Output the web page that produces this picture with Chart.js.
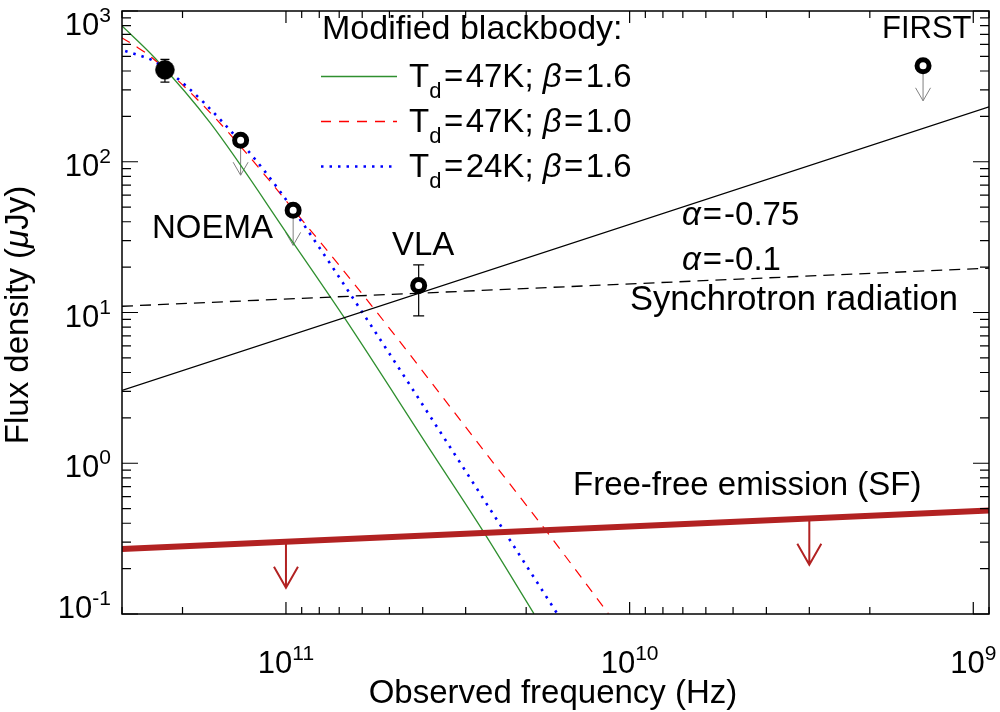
<!DOCTYPE html>
<html>
<head>
<meta charset="utf-8">
<script src="https://cdn.jsdelivr.net/npm/chart.js@4.4.1/dist/chart.umd.min.js"></script>
<style>
  html, body { margin: 0; padding: 0; background: #fff; }
  #wrap { width: 1000px; height: 712px; position: relative; }
</style>
</head>
<body>
<div id="wrap"><canvas id="sed"></canvas></div>
<script>
// frequencies in Hz, flux densities in microJy
const bb47b16Freq = [3.015e11, 2.403e11, 1.663e11, 9.524e10, 6.74e10, 3.776e10, 2.672e10, 1.899e10];
const bb47b16Flux = [805, 486, 181.6, 29.0, 9.13, 1.194, 0.356, 0.1007];

const bb47b10Freq = [3.015e11, 2.746e11, 2.458e11, 1.630e11, 8.807e10, 5.615e10, 2.642e10, 1.749e10, 1.153e10];
const bb47b10Flux = [668, 587, 492, 202, 38.9, 11.0, 1.194, 0.356, 0.1007];

const bb24b16Freq = [2.937e11, 2.657e11, 2.430e11, 1.945e11, 1.545e11, 1.177e11, 9.21e10, 5.895e10, 3.266e10, 1.625e10];
const bb24b16Flux = [543, 506, 467, 316, 188, 91.8, 43.1, 9.46, 1.194, 0.1007];

const syncFreq = [3e11, 9e8];
const sync075Flux = [3.04, 231.5];
const sync01Flux = [11.0, 19.7];

const ffFreq = [3e11, 9e8];
const ffFlux = [0.27, 0.486];
const ffLimitFreq = [1e11, 3e9];
const ffLimitFlux = [0.301, 0.428];

const detFreq = [2.25e11];
const detFlux = [407];
const detErr = [70];

const vlaFreq = [4.11e10];
const vlaFlux = [15.1];
const vlaErr = [5.6];

const limFreq = [1.355e11, 9.53e10, 1.40e9];
const limFlux = [139, 47.6, 433];

const xMajor = [1e9, 1e10, 1e11];
const xMajorExp = ['9', '10', '11'];
const yMajor = [0.1, 1, 10, 100, 1000];
const yMajorExp = ['-1', '0', '1', '2', '3'];

const FONT = '"Liberation Sans", Arial, Helvetica, sans-serif';
const GREEN = '#2f8f2f';
const RED = '#ff0000';
const BLUE = '#0000ff';
const FIREBRICK = '#b22222';

function pts(xs, ys) {
  return xs.map((v, i) => ({ x: v, y: ys[i] }));
}

// draws a run of text pieces (size, italic, vertical shift, side padding)
function rich(ctx, parts, x, y, measureOnly) {
  let w = 0;
  for (const p of parts) {
    ctx.font = (p.it ? 'italic ' : '') + p.size + 'px ' + FONT;
    const pad = p.pad || 0;
    if (!measureOnly) ctx.fillText(p.t, x + w + pad, y + (p.dy || 0));
    w += ctx.measureText(p.t).width + 2 * pad;
  }
  return w;
}

function powLabel(ctx, exp, x, y, align) {
  const parts = [{ t: '10', size: 31 }, { t: exp, size: 21, dy: -13 }];
  const w = rich(ctx, parts, 0, 0, true);
  const x0 = align === 'right' ? x - w : x - w / 2;
  rich(ctx, parts, x0, y);
}

function arrowDown(ctx, x, y0, y1, half, head) {
  ctx.beginPath();
  ctx.moveTo(x, y0);
  ctx.lineTo(x, y1);
  ctx.moveTo(x - half, y1 - head);
  ctx.lineTo(x, y1);
  ctx.lineTo(x + half, y1 - head);
  ctx.stroke();
}

const marks = {
  id: 'marks',
  beforeDatasetsDraw(chart) {
    const { ctx, scales: { x, y } } = chart;
    ctx.save();
    ctx.strokeStyle = '#000';
    ctx.lineWidth = 1.2;
    // error bars
    const bars = [[detFreq, detFlux, detErr, 4.5], [vlaFreq, vlaFlux, vlaErr, 5.5]];
    bars.forEach(([fx, fy, fe, cap]) => {
      fx.forEach((f, i) => {
        const px = x.getPixelForValue(f);
        const top = y.getPixelForValue(fy[i] + fe[i]);
        const bot = y.getPixelForValue(fy[i] - fe[i]);
        ctx.beginPath();
        ctx.moveTo(px, top); ctx.lineTo(px, bot);
        ctx.moveTo(px - cap, top); ctx.lineTo(px + cap, top);
        ctx.moveTo(px - cap, bot); ctx.lineTo(px + cap, bot);
        ctx.stroke();
      });
    });
    // upper limit arrows
    ctx.strokeStyle = '#808080';
    ctx.lineWidth = 1;
    limFreq.forEach((f, i) => {
      const px = x.getPixelForValue(f);
      const py = y.getPixelForValue(limFlux[i]);
      arrowDown(ctx, px, py + 7, py + 35, 7.5, 13);
    });
    ctx.restore();
  },
  afterDatasetsDraw(chart) {
    const { ctx, scales: { x, y } } = chart;
    ctx.save();
    ctx.strokeStyle = FIREBRICK;
    ctx.lineWidth = 2;
    ffLimitFreq.forEach((f, i) => {
      const px = x.getPixelForValue(f);
      const py = y.getPixelForValue(ffLimitFlux[i]);
      arrowDown(ctx, px, py + 2, py + 46, 12, 21);
    });
    ctx.restore();
  },
  afterDraw(chart) {
    const { ctx, chartArea: a, scales: { x, y } } = chart;
    ctx.save();
    ctx.strokeStyle = '#000';
    ctx.fillStyle = '#000';
    ctx.lineWidth = 1.5;
    ctx.strokeRect(a.left, a.top, a.right - a.left, a.bottom - a.top);

    // ticks on all four sides, pointing inwards
    ctx.lineWidth = 1.2;
    ctx.beginPath();
    for (let n = 8; n <= 11; n++) {
      for (let k = 1; k <= 9; k++) {
        const v = k * Math.pow(10, n);
        if (v < x.min || v > x.max) continue;
        const px = x.getPixelForValue(v);
        const len = k === 1 ? 12 : 7;
        ctx.moveTo(px, a.bottom); ctx.lineTo(px, a.bottom - len);
        ctx.moveTo(px, a.top); ctx.lineTo(px, a.top + len);
      }
    }
    for (let n = -1; n <= 3; n++) {
      for (let k = 1; k <= 9; k++) {
        const v = k * Math.pow(10, n);
        if (v < y.min * 0.999 || v > y.max * 1.001) continue;
        const py = y.getPixelForValue(v);
        const len = k === 1 ? 16 : 9;
        ctx.moveTo(a.left, py); ctx.lineTo(a.left + len, py);
        ctx.moveTo(a.right, py); ctx.lineTo(a.right - len, py);
      }
    }
    ctx.stroke();

    // tick labels
    ctx.textAlign = 'left';
    ctx.textBaseline = 'alphabetic';
    xMajor.forEach((v, i) => powLabel(ctx, xMajorExp[i], x.getPixelForValue(v), 673, 'center'));
    yMajor.forEach((v, i) => {
      const base = Math.min(Math.max(y.getPixelForValue(v) + 14, 35), 618);
      powLabel(ctx, yMajorExp[i], 111, base, 'right');
    });

    // axis titles
    ctx.font = '33px ' + FONT;
    ctx.textAlign = 'center';
    ctx.fillText('Observed frequency (Hz)', 553, 703);
    ctx.textAlign = 'left';
    const yt = [{ t: 'Flux density (', size: 33 }, { t: 'μ', size: 33, it: true }, { t: 'Jy)', size: 33 }];
    ctx.save();
    ctx.translate(28, 315);
    ctx.rotate(-Math.PI / 2);
    const wy = rich(ctx, yt, 0, 0, true);
    rich(ctx, yt, -wy / 2, 0);
    ctx.restore();

    // legend
    ctx.font = '34px ' + FONT;
    ctx.fillText('Modified blackbody:', 322, 39);
    const entries = [
      ['47K; ', '1.6', GREEN, [], 1.3, 76.5],
      ['47K; ', '1.0', RED, [10, 8], 1.3, 121.5],
      ['24K; ', '1.6', BLUE, [2.5, 6], 2.6, 166.5]
    ];
    entries.forEach(([t, b, col, dash, lw, ly]) => {
      ctx.save();
      ctx.strokeStyle = col;
      ctx.lineWidth = lw;
      ctx.setLineDash(dash);
      ctx.beginPath();
      ctx.moveTo(321, ly); ctx.lineTo(397, ly);
      ctx.stroke();
      ctx.restore();
      ctx.fillStyle = '#000';
      rich(ctx, [
        { t: 'T', size: 33 }, { t: 'd', size: 22, dy: 11 }, { t: '=', size: 33, pad: 2.5 }, { t: t, size: 33 },
        { t: 'β', size: 33, it: true }, { t: '=', size: 33, pad: 2.5 }, { t: b, size: 33 }
      ], 409, ly + 10);
    });

    // annotations
    ctx.font = '33px ' + FONT;
    ctx.fillText('NOEMA', 152, 238);
    ctx.fillText('VLA', 392, 255);
    ctx.fillText('Free-free emission (SF)', 573, 495);
    ctx.font = '31px ' + FONT;
    ctx.fillText('FIRST', 882, 38);
    ctx.font = '34.5px ' + FONT;
    ctx.fillText('Synchrotron radiation', 630, 310);
    rich(ctx, [{ t: 'α', size: 33, it: true }, { t: '=', size: 33, pad: 2 }, { t: '-0.75', size: 33 }], 682, 225);
    rich(ctx, [{ t: 'α', size: 33, it: true }, { t: '=', size: 33, pad: 2 }, { t: '-0.1', size: 33 }], 682, 270);
    ctx.restore();
  }
};

const lineStyle = { showLine: true, pointRadius: 0, pointHoverRadius: 0, fill: false, cubicInterpolationMode: 'monotone' };

new Chart(document.getElementById('sed'), {
  type: 'scatter',
  data: {
    datasets: [
      { label: 'detection', data: pts(detFreq, detFlux), pointRadius: 9.5, pointBackgroundColor: '#000', pointBorderColor: '#000', pointBorderWidth: 0.5 },
      { label: 'VLA', data: pts(vlaFreq, vlaFlux), pointRadius: 6, pointBorderWidth: 5, pointBackgroundColor: '#fff', pointBorderColor: '#000' },
      { label: 'limits', data: pts(limFreq, limFlux), pointRadius: 6, pointBorderWidth: 5, pointBackgroundColor: '#fff', pointBorderColor: '#000' },
      { ...lineStyle, label: 'free-free', data: pts(ffFreq, ffFlux), borderColor: FIREBRICK, borderWidth: 6 },
      { ...lineStyle, label: 'sync -0.75', data: pts(syncFreq, sync075Flux), borderColor: '#000', borderWidth: 1.3 },
      { ...lineStyle, label: 'sync -0.1', data: pts(syncFreq, sync01Flux), borderColor: '#000', borderWidth: 1.3, borderDash: [11, 7] },
      { ...lineStyle, label: 'Td=24K b=1.6', data: pts(bb24b16Freq, bb24b16Flux), borderColor: BLUE, borderWidth: 2.6, borderDash: [2.5, 6] },
      { ...lineStyle, label: 'Td=47K b=1.0', data: pts(bb47b10Freq, bb47b10Flux), borderColor: RED, borderWidth: 1.2, borderDash: [10, 8] },
      { ...lineStyle, label: 'Td=47K b=1.6', data: pts(bb47b16Freq, bb47b16Flux), borderColor: GREEN, borderWidth: 1.3 }
    ]
  },
  options: {
    responsive: true,
    maintainAspectRatio: false,
    animation: false,
    layout: { padding: { left: 122, top: 6, right: 8, bottom: 98 } },
    plugins: { legend: { display: false }, tooltip: { enabled: false } },
    scales: {
      x: { type: 'logarithmic', reverse: true, min: 9e8, max: 3e11, display: false },
      y: { type: 'logarithmic', min: 0.1, max: 1000, display: false }
    }
  },
  plugins: [marks]
});
</script>
</body>
</html>
